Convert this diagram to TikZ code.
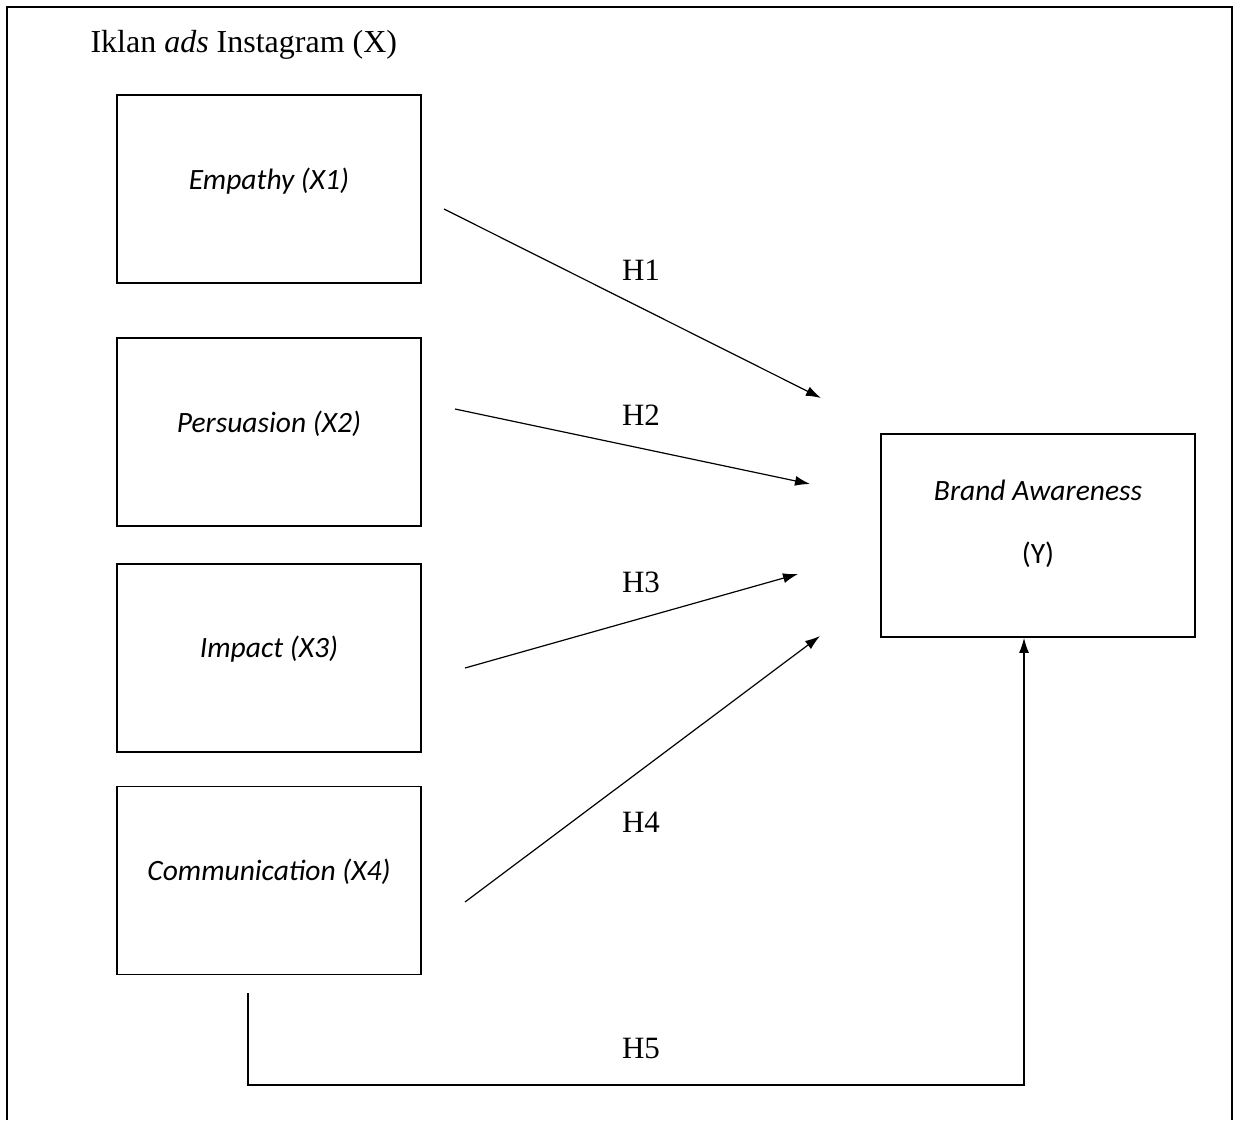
\documentclass[tikz,border=0pt]{standalone}
\usepackage{fontspec}
\setmainfont{Liberation Serif}
\newfontfamily\boxfont{Carlito}
\usetikzlibrary{arrows.meta,
                positioning}
\tikzset{varbox/.style=
   {rectangle,
    draw,
    line width=1.8pt,
    text centered,
    text depth=21pt,
    minimum width=304pt,
    minimum height=188pt,
    font=\boxfont\fontsize{29.5}{35}\selectfont\itshape}}
\tikzset{hyp/.style =
   {font=\fontsize{31}{37}\selectfont}}
\tikzset{arrow/.style = {draw, line width=1.2pt, -{Latex[length=15pt,width=10pt]}}}

\begin{document}
\begin{tikzpicture}[x=1pt,y=-1pt]

    \useasboundingbox (0,0) rectangle (1234,1120);

    % frame, open at the bottom
    \draw [line width=1.6pt] (7,1120) -- (7,7) -- (1232,7) -- (1232,1120);

    \node [hyp,
           font=\fontsize{32}{38}\selectfont,
           anchor=west] (title) at (87,45) {Iklan \textit{ads} Instagram (X)};

    \node [varbox] (x1) at (269,189) {Empathy (X1)};

    \node [varbox,
           below = 53pt of x1] (x2) {Persuasion (X2)};

    \node [varbox,
           below = 36pt of x2] (x3) {Impact (X3)};

    \node [varbox,
           below = 33pt of x3] (x4) {Communication (X4)};

    \node [varbox,
           minimum width=314pt,
           minimum height=203pt,
           text depth=27pt,
           align=center] (y) at (1038,535.5)
          {Brand Awareness\\[28pt]\upshape (Y)};

    % arrow ends
    \coordinate (h1s) at (444,209);
    \coordinate (h1e) at (821,398);
    \coordinate (h2s) at (455,409);
    \coordinate (h2e) at (810,484);
    \coordinate (h3s) at (465,668);
    \coordinate (h3e) at (798,574);
    \coordinate (h4s) at (465,902);
    \coordinate (h4e) at (820,636);
    \coordinate (h5s) at (248,993);
    \coordinate (h5m) at (1024,1085);

    \path [arrow] (h1s) -- (h1e);
    \path [arrow] (h2s) -- (h2e);
    \path [arrow] (h3s) -- (h3e);
    \path [arrow] (h4s) -- (h4e);
    \path [arrow] (h5s) |- (h5m) -- (y.south -| h5m);

    \node [hyp] (lh1) at (641,270) {H1};
    \node [hyp] (lh2) at (641,415) {H2};
    \node [hyp] (lh3) at (641,582) {H3};
    \node [hyp] (lh4) at (641,822) {H4};
    \node [hyp] (lh5) at (641,1048) {H5};

\end{tikzpicture}
\end{document}
